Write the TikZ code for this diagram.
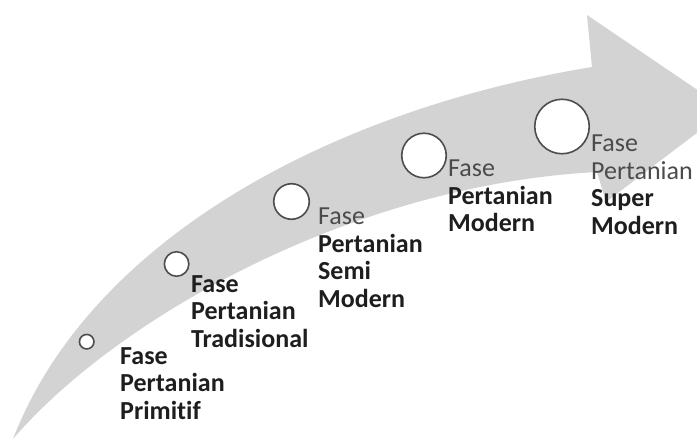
\documentclass[tikz,border=0pt]{standalone}
\usepackage{fontspec}
\setmainfont{Carlito}[Ligatures=NoCommon]
\definecolor{ArrowGray}{RGB}{211,211,211}
\definecolor{RingGray}{RGB}{77,77,77}
\definecolor{TextDark}{RGB}{30,30,30}
\definecolor{TextGray}{RGB}{75,75,75}
\newcommand{\lite}[1]{\textmd{\textcolor{TextGray}{#1}}}

\begin{document}
\begin{tikzpicture}[x=1pt, y=-1pt,
 stage/.style={circle, draw=RingGray, line width=1.6pt, fill=white, inner sep=0pt},
 phase/.style={anchor=north west, align=left, inner sep=0pt, text=TextDark, font=\fontsize{26}{27.5}\selectfont\bfseries}
]
\useasboundingbox (0,0) rectangle (697,439);
% curved arrow
\fill[ArrowGray] (13,439) .. controls (90,240) and (330,110) .. (592,67)
  -- (587,15) -- (727,110) -- (606,202) -- (597,172)
  .. controls (350,185) and (115,320) .. (13,439) -- cycle;

\node[stage, minimum size=14.5pt] (primitif) at (86.7,341.7) {};
\node[stage, minimum size=24.5pt] (tradisional) at (176.6,264) {};
\node[stage, minimum size=35.5pt] (semimodern) at (291.5,201.5) {};
\node[stage, minimum size=44.5pt] (modern) at (424,155.5) {};
\node[stage, minimum size=54.5pt] (supermodern) at (562,126.5) {};

\node[phase] (lblprimitif) at (120,347) {Fase\\Pertanian\\Primitif};
\node[phase] (lbltradisional) at (191,275) {Fase\\Pertanian\\Tradisional};
\node[phase] (lblsemimodern) at (318,208) {\lite{Fase}\\Pertanian\\Semi\\Modern};
\node[phase] (lblmodern) at (448,160) {\lite{Fase}\\Pertanian\\Modern};
\node[phase] (lblsupermodern) at (591,135) {\lite{Fase}\\\lite{Pertanian}\\Super\\Modern};
\end{tikzpicture}
\end{document}
